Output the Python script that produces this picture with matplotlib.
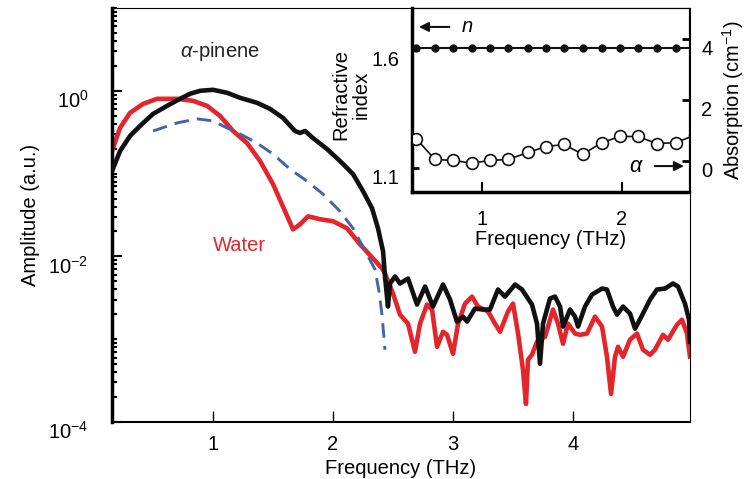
import matplotlib
matplotlib.use("Agg")
import matplotlib.pyplot as plt
import matplotlib.transforms as mtransforms
from matplotlib.ticker import NullFormatter, LogLocator

plt.rcParams['font.family'] = ['Liberation Sans', 'DejaVu Sans']
plt.rcParams['mathtext.fontset'] = 'custom'
plt.rcParams['mathtext.rm'] = 'Liberation Sans'
plt.rcParams['mathtext.it'] = 'Liberation Sans:italic'

# main spectra
pinene_f = [0.158, 0.225, 0.308, 0.392, 0.5, 0.617, 0.725, 0.808, 0.892, 1.0, 1.117, 1.225,
            1.367, 1.475, 1.583, 1.683, 1.725, 1.767, 1.833, 1.95, 2.058, 2.167, 2.25, 2.325,
            2.375, 2.417, 2.433, 2.458, 2.475, 2.517, 2.558, 2.625, 2.7, 2.767, 2.833, 2.917,
            2.975, 3.033, 3.083, 3.117, 3.183, 3.25, 3.308, 3.375, 3.433, 3.517, 3.575, 3.658,
            3.7, 3.725, 3.75, 3.808, 3.85, 3.892, 3.917, 3.975, 4.017, 4.042, 4.1, 4.158,
            4.242, 4.283, 4.333, 4.367, 4.417, 4.475, 4.517, 4.583, 4.642, 4.7, 4.767, 4.833,
            4.875, 4.933, 4.967, 4.975]
pinene_a = [0.107, 0.187, 0.285, 0.377, 0.526, 0.658, 0.800, 0.920, 1.0, 1.028, 0.946, 0.823,
            0.716, 0.605, 0.471, 0.327, 0.310, 0.327, 0.269, 0.198, 0.142, 0.0986, 0.0614, 0.0382,
            0.0218, 0.0115, 0.00573, 0.00248, 0.00471, 0.00573, 0.00471, 0.0054, 0.00262, 0.00433, 0.00248, 0.00458,
            0.00301, 0.00163, 0.00187, 0.00163, 0.00234, 0.00228, 0.00228, 0.00398, 0.00327, 0.00458, 0.00398, 0.00262,
            0.00154, 0.000505, 0.00154, 0.0031, 0.00327, 0.00248, 0.00142, 0.00228, 0.00187, 0.00142, 0.00248, 0.00346,
            0.00409, 0.00398, 0.00248, 0.00198, 0.00248, 0.00204, 0.00134, 0.00204, 0.00301, 0.00398, 0.00409, 0.00471,
            0.00433, 0.00269, 0.00172, 0.00093]

water_f = [0.158, 0.225, 0.308, 0.417, 0.533, 0.7, 0.833, 0.95, 1.058, 1.167, 1.283, 1.392,
           1.5, 1.6, 1.667, 1.725, 1.792, 1.892, 2.0, 2.117, 2.225, 2.333, 2.408, 2.433,
           2.5, 2.558, 2.625, 2.683, 2.725, 2.783, 2.825, 2.867, 2.917, 2.95, 3.0, 3.042,
           3.1, 3.158, 3.208, 3.292, 3.35, 3.392, 3.458, 3.5, 3.542, 3.583, 3.608, 3.625,
           3.658, 3.7, 3.767, 3.833, 3.875, 3.917, 3.958, 4.017, 4.058, 4.117, 4.183, 4.242,
           4.283, 4.317, 4.35, 4.375, 4.417, 4.475, 4.533, 4.583, 4.642, 4.683, 4.75, 4.792,
           4.867, 4.908, 4.95, 4.967, 4.975]
water_a = [0.187, 0.356, 0.541, 0.695, 0.800, 0.800, 0.757, 0.658, 0.498, 0.327, 0.234, 0.142,
           0.0746, 0.0351, 0.0212, 0.0244, 0.0305, 0.0281, 0.0266, 0.0218, 0.014, 0.00946, 0.00716, 0.00622,
           0.00356, 0.00198, 0.00154, 0.000705, 0.00154, 0.00262, 0.00228, 0.00081, 0.00123, 0.00113, 0.000667, 0.00154,
           0.00269, 0.00327, 0.00248, 0.00216, 0.00154, 0.00123, 0.00216, 0.00269, 0.00117, 0.000427, 0.000165, 0.000565,
           0.000649, 0.000933, 0.00107, 0.00228, 0.00154, 0.000882, 0.00154, 0.00117, 0.00113, 0.00117, 0.00187, 0.00142,
           0.000614, 0.000218, 0.000614, 0.00081, 0.000614, 0.000986, 0.00117, 0.000746, 0.000649, 0.000746, 0.00113, 0.000986,
           0.0015, 0.00172, 0.00117, 0.000746, 0.000614]

ref_f = [0.5, 0.7, 0.867, 1.0, 1.117, 1.225, 1.367, 1.5, 1.642, 1.783, 1.917, 2.058,
         2.167, 2.283, 2.35, 2.383, 2.408, 2.433]
ref_a = [0.327, 0.409, 0.458, 0.433, 0.356, 0.301, 0.234, 0.172, 0.113, 0.0811, 0.0565, 0.0351,
         0.0218, 0.0106, 0.00695, 0.00377, 0.00198, 0.000746]

# inset: refractive index and absorption
inset_f = [0.53, 0.664, 0.793, 0.929, 1.057, 1.186, 1.33, 1.457, 1.586, 1.72, 1.857, 1.986,
           2.114, 2.25, 2.386, 2.52]
index_n = [1.61] * 16
absorb = [0.74, 0.06, 0.03, -0.06, 0.03, 0.06, 0.29, 0.48, 0.55, 0.23, 0.61, 0.81,
          0.81, 0.58, 0.61, 0.85]

FS = 14.5
W, H = 747, 479
fig = plt.figure(figsize=(W / 100, H / 100), dpi=100)
ax = fig.add_axes([112 / W, 1 - 422 / H, (690 - 112) / W, (422 - 8) / H])

ax.plot(pinene_f, pinene_a, color='#111111', lw=3.3, solid_joinstyle='round', zorder=3)
ax.plot(water_f, water_a, color='#e3262b', lw=3.3, solid_joinstyle='round', zorder=2)
ax.plot(ref_f, ref_a, color='#4563a8', lw=2.1, ls=(0, (5, 2.8)), zorder=2)

ax.set_yscale('log')
ax.set_xlim(0.158, 4.975)
ax.set_ylim(1e-4, 1e1)
ax.set_xticks([1, 2, 3, 4])
ax.set_yticks([1e-4, 1e-2, 1e0])
ax.set_yticklabels([r'$10^{-4}$', r'$10^{-2}$', r'$10^{0}$'])
ax.yaxis.set_minor_locator(LogLocator(base=10, subs=[1, 2, 3, 4, 5, 6, 7, 8, 9], numticks=20))
ax.yaxis.set_minor_formatter(NullFormatter())
ax.tick_params(axis='x', direction='in', length=8, width=1, labelsize=FS, pad=9, top=False)
ax.tick_params(axis='y', which='major', direction='in', length=7, width=1.5, labelsize=FS, pad=17, right=False)
ax.tick_params(axis='y', which='minor', direction='in', length=3.5, width=1.5, right=False)
ax.spines['left'].set_linewidth(2.5)
ax.spines['bottom'].set_linewidth(1.5)
ax.spines['top'].set_linewidth(0.8)
ax.spines['right'].set_linewidth(0.8)
ax.set_xlabel('Frequency (THz)', fontsize=FS, labelpad=4)
ax.set_ylabel('Amplitude (a.u.)', fontsize=FS, labelpad=6)

shift = mtransforms.ScaledTranslation(0, -6 / 72, fig.dpi_scale_trans)
for lab in ax.get_yticklabels():
    lab.set_transform(lab.get_transform() + shift)

ax.text(0.118, 0.894, r'$\alpha$-pinene', transform=ax.transAxes, fontsize=FS, color='#222222', va='center')
ax.text(0.175, 0.427, 'Water', transform=ax.transAxes, fontsize=FS, color='#e3262b', va='center')

# inset
ins = fig.add_axes([412 / W, 1 - 192 / H, (689 - 412) / W, (192 - 8) / H])
ins.set_facecolor('white')
ins.plot(inset_f, index_n, color='#111111', lw=1.5, marker='o', ms=5, mfc='#111111', mec='#111111')
ins.set_xlim(0.5, 2.48)
ins.set_ylim(1.0, 1.78)
ins.set_xticks([1, 2])
ins.set_yticks([1.1, 1.6])
ins.set_yticklabels(['1.1', '1.6'])
ins.tick_params(axis='x', direction='in', length=7, width=1.5, labelsize=FS, pad=13)
ins.tick_params(axis='y', direction='in', length=5, width=2, labelsize=FS, pad=9)
ins.spines['left'].set_linewidth(2.5)
ins.spines['bottom'].set_linewidth(2.5)
ins.spines['top'].set_linewidth(0.8)
ins.spines['right'].set_linewidth(0.8)
ins.set_xlabel('Frequency (THz)', fontsize=FS, labelpad=1)
ins.set_ylabel('Refractive\nindex', fontsize=FS, linespacing=1.1)
ins.yaxis.set_label_coords(-0.148, 0.53)

tw = ins.twinx()
tw.plot(inset_f, absorb, color='#111111', lw=1.2, marker='o', ms=8.5, mfc='white', mec='#111111', mew=1.2)
tw.set_xlim(0.5, 2.48)
tw.set_ylim(-1, 5)
tw.set_yticks([0, 2, 4])
tw.tick_params(axis='y', direction='in', length=5, width=2, labelsize=FS, pad=9)
tw.spines['right'].set_linewidth(0.8)
tw.set_ylabel('Absorption (cm$^{-1}$)', fontsize=FS, labelpad=5)
for a in (ins, tw):
    for lab in a.get_yticklabels():
        lab.set_transform(lab.get_transform() + shift)

ins.annotate('', xy=(0.015, 0.897), xytext=(0.145, 0.897), xycoords='axes fraction',
             arrowprops=dict(arrowstyle='-|>', color='#111111', lw=1.5, mutation_scale=14))
ins.text(0.18, 0.897, 'n', transform=ins.transAxes, fontsize=FS, style='italic', va='center')
ins.annotate('', xy=(0.992, 0.141), xytext=(0.866, 0.141), xycoords='axes fraction',
             arrowprops=dict(arrowstyle='-|>', color='#111111', lw=1.5, mutation_scale=14))
ins.text(0.81, 0.141, r'$\alpha$', transform=ins.transAxes, fontsize=FS + 1, va='center', ha='center')

fig.savefig('out.png', dpi=100)
